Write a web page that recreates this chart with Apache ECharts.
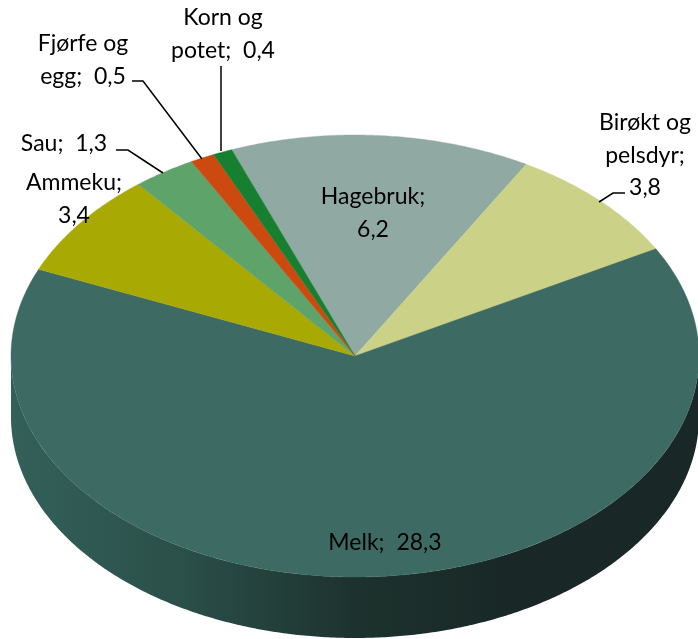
<!DOCTYPE html>
<html><head><meta charset="utf-8">
<style>html,body{margin:0;padding:0;background:#fff}#c{width:698px;height:639px}</style>
<script src="https://cdn.jsdelivr.net/npm/echarts@6/dist/echarts.min.js"></script>
</head><body><div id="c"></div>
<script>
const categories = ['Hagebruk','Birøkt og pelsdyr','Melk','Ammeku','Sau','Fjørfe og egg','Korn og potet'];
const values = [6.2,3.8,28.3,3.4,1.3,0.5,0.4];
const colors = ['#90A9A3','#CBD186','#3D6B64','#A8AA03','#5EA36A','#CC4A10','#178030'];
const labelTemplates = ['{n};\n{v}','Birøkt og\npelsdyr;\n{v}','{n};  {v}','{n};\n{v}','{n};  {v}','Fjørfe og\negg;  {v}','Korn og\npotet;  {v}'];
const labelCenters = [[373,197],[645,123],[385,543],[74,183],[64,144],[83,44],[223,18]];
const leaders = [
  [[625,193],[613,193],[599,202]],
  [[116,150],[128,150],[163,173]],
  [[132,81],[143,81],[202,159]],
  [[221,66],[221,151]]
];
const CX=355, CY=356, RX=344, RY=221, DEPTH=61, START=-21, LINE=32.5;
const total = values.reduce((a,b)=>a+b,0);
const pt=(deg,dy)=>{const r=deg*Math.PI/180;return [CX+RX*Math.sin(r),CY-RY*Math.cos(r)+(dy||0)];};
function arc(a,b,dy){const n=Math.max(2,Math.ceil(Math.abs(b-a)*2)),o=[];for(let i=0;i<=n;i++)o.push(pt(a+(b-a)*i/n,dy));return o;}
const wallGrad={type:'linear',x:CX-RX,y:0,x2:CX+RX,y2:0,global:true,colorStops:[
  {offset:0,color:'#34605A'},{offset:0.25,color:'#2B4F49'},{offset:0.5,color:'#1D322E'},{offset:0.72,color:'#192826'},{offset:1,color:'#192826'}]};
function renderItem(params,api){
  const i=params.dataIndex, v=api.value(0);
  let before=0; for(let k=0;k<i;k++) before+=values[k];
  const a=START+before/total*360, b=a+v/total*360;
  const kids=[];
  const wa=Math.max(a,90), wb=Math.min(b,270);
  if(wb>wa){
    const top=arc(wa,wb,0), bot=arc(wb,wa,DEPTH);
    kids.push({type:'polygon',z2:1,shape:{points:top.concat(bot)},style:{fill:wallGrad}});
  }
  kids.push({type:'polygon',z2:2,shape:{points:[[CX,CY]].concat(arc(a,b,0))},
    style:{fill:colors[i],stroke:colors[i],lineWidth:0.4}});
  return {type:'group',children:kids};
}
const graphics=[];
categories.forEach((n,i)=>{
  const text=labelTemplates[i].replace('{n}',n).replace('{v}',values[i].toFixed(1).replace('.',','));
  text.split('\n').forEach((t,j)=>{
    graphics.push({type:'text',z:10,x:labelCenters[i][0],y:labelCenters[i][1]+j*LINE,
      style:{text:t,fill:'#000',font:'23px Lato, Carlito, sans-serif',textAlign:'center',textVerticalAlign:'middle'}});
  });
});
leaders.forEach(p=>graphics.push({type:'polyline',z:9,shape:{points:p},style:{stroke:'#000',lineWidth:1.5,fill:null}}));
const chart=echarts.init(document.getElementById('c'),null,{renderer:'canvas'});
chart.setOption({animation:false,backgroundColor:'#fff',
  series:[{type:'custom',coordinateSystem:'none',renderItem,data:values.map(v=>[v]),silent:true}],
  graphic:graphics});
</script></body></html>
